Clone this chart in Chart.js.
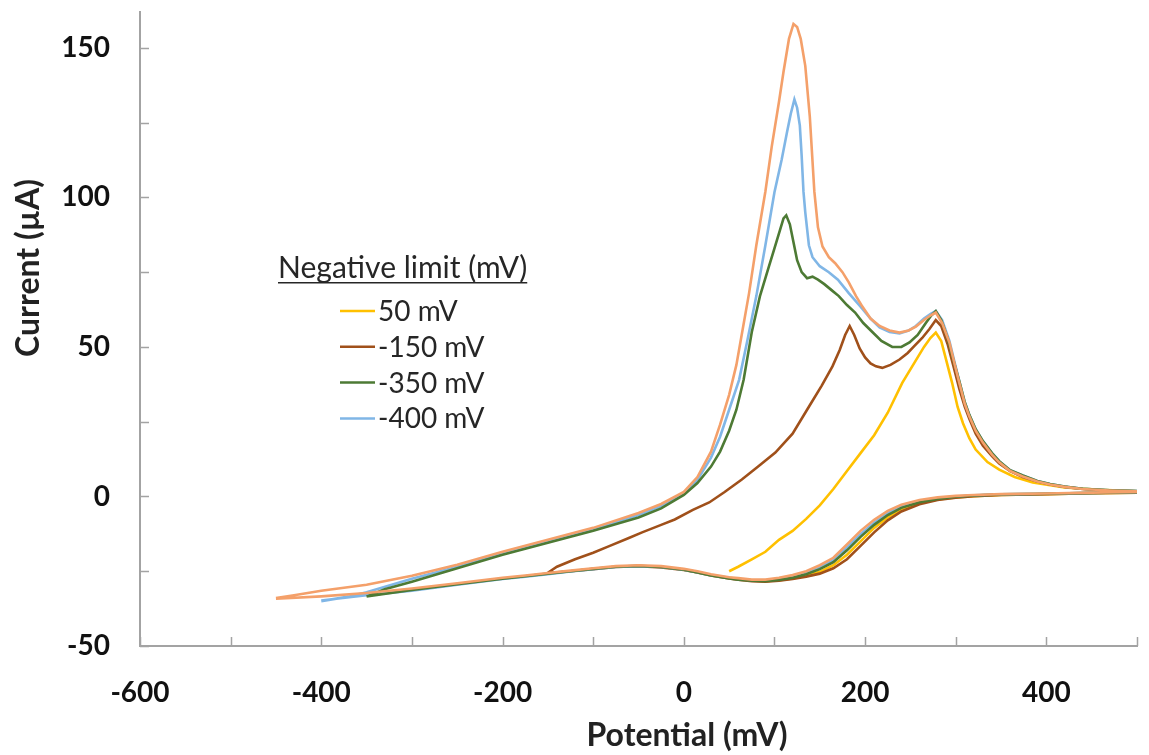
<!DOCTYPE html>
<html>
<head>
<meta charset="utf-8">
<script src="https://cdn.jsdelivr.net/npm/chart.js@4.4.0/dist/chart.umd.min.js"></script>
<style>
  html, body { margin: 0; padding: 0; background: #fff; }
  #wrap { width: 1149px; height: 755px; }
</style>
</head>
<body>
<div id="wrap"><canvas id="cv"></canvas></div>
<script>
// ---- données (potentiel en mV, courant en µA) ----
const xTickLabels = [-600, -400, -200, 0, 200, 400];
const xTickMarks = [-600, -500, -400, -300, -200, -100, 0, 100, 200, 300, 400, 500];
const yTickLabels = [-50, 0, 50, 100, 150];
const yTickMarks = [-50, -25, 0, 25, 50, 75, 100, 125, 150];

// balayage retour (commun en x), de +500 vers la limite négative
const reverseX = [500, 450, 400, 350, 320, 300, 280, 260, 240, 225, 210, 195, 180, 165, 150, 135, 120, 105, 90, 75, 60, 50, 30, 15, 0, -25, -50, -75, -100, -125, -150, -175, -200, -250, -300, -350, -400, -450];

// 50 mV
const mv50FwdX = [50, 60, 75, 90, 105, 120, 135, 150, 165, 180, 195, 210, 225, 241, 255, 265, 272, 278, 284, 290, 296, 302, 308, 315, 322, 335, 348, 365, 385, 420, 460, 500];
const mv50FwdY = [-25, -23.5, -21, -18.5, -14.5, -11.5, -7.5, -3, 2.5, 8.5, 14.5, 20.5, 28, 38, 45, 50, 53, 54.8, 52, 45, 38, 30, 24.5, 19.5, 15.7, 11.5, 9, 6.5, 4.7, 3, 2.2, 1.7];
const mv50RevY = [1.3, 1.1, 0.8, 0.5, 0.1, -0.3, -1, -2.2, -4.3, -7, -10.5, -15, -19.5, -23, -25.2, -26.5, -27.4, -28, -28.3, -28.1, -27.6, -27.2];

// -150 mV
const mv150FwdX = [-150, -140, -120, -100, -83, -60, -46, -25, -10, 10, 28, 45, 64, 82, 101, 120, 138, 152, 164, 172, 178, 183, 188, 194, 200, 206, 212, 219, 228, 238, 247, 255, 263, 271, 278, 284, 291, 298, 304, 310, 315, 322, 330, 340, 348, 360, 374, 390, 404, 420, 440, 470, 500];
const mv150FwdY = [-25.5, -23.5, -21, -18.8, -16.7, -13.8, -12, -9.5, -7.7, -4.5, -2, 1.5, 5.7, 10, 14.7, 21, 30, 37, 43.5, 49, 54, 57, 54, 49.5, 46.5, 44.5, 43.5, 43, 44, 45.8, 48, 50.5, 53, 56, 59, 57, 51, 43, 36, 30, 26, 21, 17, 13.5, 11, 8.5, 6.5, 5, 4, 3.2, 2.5, 2, 1.7];
const mv150RevY = [1.3, 1.1, 0.8, 0.5, 0.1, -0.4, -1.2, -2.6, -5, -8, -12, -16.5, -21, -24, -25.8, -26.8, -27.6, -28.2, -28.5, -28.3, -27.8, -27.4, -26.4, -25.4, -24.6, -23.7, -23.3, -23.6, -24.3, -25, -25.6];

// -350 mV
const mv350FwdX = [-350, -330, -300, -250, -200, -150, -100, -50, -25, 0, 15, 30, 40, 50, 58, 66, 75, 84, 94, 100, 106, 110, 113, 117, 121, 125, 130, 136, 142, 148, 155, 163, 171, 180, 189, 198, 208, 218, 230, 240, 249, 258, 267, 273, 278, 284, 291, 298, 304, 310, 315, 322, 330, 340, 348, 360, 374, 390, 404, 420, 440, 470, 500];
const mv350FwdY = [-33.5, -31, -28.5, -24, -19.5, -15.5, -11.5, -7, -4, 0.5, 4.5, 10, 15, 22, 29, 39, 55, 67, 77, 83, 89, 93, 94, 91, 85, 79, 75, 73, 73.5, 72.5, 71, 69, 67, 64, 61.5, 58, 55, 52, 50, 50, 51.5, 54, 58, 60.5, 62, 59, 53, 45, 38.5, 31.5, 27.3, 22.5, 18.5, 14.5, 11.8, 8.8, 7, 5.2, 4.2, 3.3, 2.6, 2.1, 1.8];
const mv350RevY = [1.4, 1.2, 0.9, 0.7, 0.3, -0.1, -0.8, -1.9, -3.8, -6.2, -9.5, -13.5, -18, -22, -24.3, -26, -27.2, -27.9, -28.3, -28.2, -27.8, -27.4, -26.4, -25.4, -24.5, -23.6, -23.2, -23.5, -24.2, -25, -25.8, -26.7, -27.5, -29.3, -31.3, -33.4];

// -400 mV
const mv400FwdX = [-400, -370, -350, -300, -250, -200, -150, -100, -50, -25, 0, 15, 30, 40, 50, 61, 70, 80, 90, 100, 108, 114, 118, 122, 125, 128, 130, 132, 134, 138, 142, 150, 160, 170, 182, 195, 206, 216, 227, 238, 248, 256, 265, 272, 278, 285, 293, 299, 304, 310, 315, 322, 330, 340, 348, 360, 374, 390, 404, 420, 440, 470, 500];
const mv400FwdY = [-35, -33.5, -32, -27.5, -23.5, -19, -15, -11, -6.2, -3.2, 1, 5.5, 13, 20, 29, 39, 52, 67, 84, 101.7, 112.7, 122, 128, 132.8, 130, 124, 114, 102, 95, 84, 80, 77, 75, 72.5, 68, 63.5, 59.5, 56.5, 55, 54.5, 55.5, 57, 59.5, 61, 62, 59, 52, 44.5, 38.5, 31.5, 27.3, 22.5, 18.5, 14.5, 11.8, 8.8, 7, 5.2, 4.2, 3.3, 2.6, 2.1, 1.8];
const mv400RevY = [1.4, 1.2, 0.9, 0.7, 0.4, 0, -0.6, -1.6, -3.4, -5.6, -8.8, -12.6, -17, -21.3, -23.8, -25.6, -26.8, -27.6, -28.1, -28, -27.6, -27.2, -26.3, -25.3, -24.5, -23.6, -23.3, -23.6, -24.3, -25.1, -26, -26.8, -27.6, -29.5, -31.5, -33, -34.8];

// -450 mV (courbe orange, absente de la légende)
const mv450FwdX = [-450, -430, -400, -350, -300, -250, -200, -150, -100, -50, -25, 0, 15, 30, 40, 50, 58, 65, 72, 80, 90, 97, 105, 110, 116, 121, 125, 129, 134, 139, 144, 148, 153, 160, 167, 175, 182, 190, 197, 206, 216, 227, 238, 248, 256, 265, 272, 278, 285, 293, 299, 304, 310, 315, 322, 330, 340, 348, 360, 374, 390, 404, 420, 440, 470, 500];
const mv450FwdY = [-34, -33, -31.5, -29.5, -26.5, -22.8, -18.5, -14.5, -10.5, -5.5, -2.5, 1.5, 6.5, 15, 24, 34, 44, 56, 68, 84, 102, 117, 132, 142, 153, 158, 157, 153, 144, 127, 102, 90, 83.6, 80, 78, 75, 71.6, 67, 63.5, 59.5, 57, 55.5, 54.8, 55.5, 56.8, 59, 60.5, 61.5, 58, 51.5, 44, 38, 31, 26.8, 22, 18, 14, 11.4, 8.5, 6.7, 5, 4, 3.2, 2.5, 2, 1.7];
const mv450RevY = [1.5, 1.3, 1.0, 0.8, 0.5, 0.2, -0.3, -1.2, -2.8, -4.8, -7.8, -11.5, -16, -20.5, -23, -25, -26.3, -27.2, -27.8, -27.8, -27.3, -27, -26, -25, -24.2, -23.3, -23, -23.3, -24, -24.8, -25.6, -26.4, -27.2, -29, -30.8, -32.3, -33.4, -34.2];

const legendTitle = 'Negative limit (mV)';

// une boucle complète : aller puis retour
function boucle(fx, fy, ry) {
    const pts = fx.map((x, i) => ({ x: x, y: fy[i] }));
    ry.forEach((y, i) => pts.push({ x: reverseX[i], y: y }));
    return pts;
}

function serie(label, color, pts, ordre, inLegend) {
    return {
        label: label, data: pts, showLine: true, borderColor: color, backgroundColor: color,
        borderWidth: 2.6, pointRadius: 0, tension: 0, order: ordre, inLegend: inLegend
    };
}

// ticks vers l'intérieur + titres des axes + légende
const decor = {
    id: 'decor',
    afterDraw(chart) {
        const ctx = chart.ctx;
        const xs = chart.scales.x, ys = chart.scales.y;
        const area = chart.chartArea;
        ctx.save();
        ctx.strokeStyle = '#a3a3a3';
        ctx.lineWidth = 1.5;
        ctx.beginPath();
        xTickMarks.forEach(v => {
            const px = Math.round(xs.getPixelForValue(v)) + 0.5;
            ctx.moveTo(px, area.bottom); ctx.lineTo(px, area.bottom - 9);
        });
        yTickMarks.forEach(v => {
            const py = Math.round(ys.getPixelForValue(v)) + 0.5;
            ctx.moveTo(area.left, py); ctx.lineTo(area.left + 9, py);
        });
        ctx.stroke();

        // titres
        ctx.fillStyle = '#222';
        ctx.font = 'bold 32px Lato';
        ctx.textAlign = 'center';
        ctx.textBaseline = 'middle';
        ctx.fillText('Potential (mV)', 687, 736);
        ctx.save();
        ctx.translate(29, 268);
        ctx.rotate(-Math.PI / 2);
        ctx.fillText('Current (µA)', 0, 0);
        ctx.restore();

        // légende
        ctx.textAlign = 'left';
        ctx.textBaseline = 'alphabetic';
        ctx.fillStyle = '#262626';
        ctx.font = '30px Lato';
        ctx.fillText(legendTitle, 278, 278);
        const w = ctx.measureText(legendTitle).width;
        ctx.fillRect(278, 282, w, 1.5);
        ctx.font = '28px Lato';
        const items = chart.data.datasets.filter(d => d.inLegend);
        items.forEach((d, i) => {
            const cy = 311 + i * 35.8;
            ctx.strokeStyle = d.borderColor;
            ctx.lineWidth = 2.5;
            ctx.beginPath();
            ctx.moveTo(340, cy); ctx.lineTo(375, cy);
            ctx.stroke();
            ctx.fillText(d.label, 378, cy + 10);
        });
        ctx.restore();
    }
};

new Chart(document.getElementById('cv'), {
    type: 'scatter',
    data: {
        datasets: [
            serie('50 mV', '#FFC000', boucle(mv50FwdX, mv50FwdY, mv50RevY), 4, true),
            serie('-150 mV', '#A0501A', boucle(mv150FwdX, mv150FwdY, mv150RevY), 3, true),
            serie('-350 mV', '#4D7A34', boucle(mv350FwdX, mv350FwdY, mv350RevY), 1, true),
            serie('-400 mV', '#80B6E6', boucle(mv400FwdX, mv400FwdY, mv400RevY), 2, true),
            serie('-450 mV', '#F4A06A', boucle(mv450FwdX, mv450FwdY, mv450RevY), 0, false)
        ]
    },
    options: {
        responsive: true,
        maintainAspectRatio: false,
        animation: false,
        layout: { padding: { top: 12, right: 12, left: 0, bottom: 0 } },
        plugins: { legend: { display: false }, tooltip: { enabled: false } },
        scales: {
            x: {
                type: 'linear', min: -600, max: 500,
                afterBuildTicks: s => { s.ticks = xTickLabels.map(v => ({ value: v })); },
                afterFit: s => { s.height = 109; s.paddingLeft = 0; s.paddingRight = 0; },
                grid: { display: false },
                border: { display: true, color: '#a3a3a3', width: 2 },
                ticks: { padding: 22, autoSkip: false, maxRotation: 0, color: '#111', font: { family: 'Lato', size: 28, weight: 'bold' } }
            },
            y: {
                type: 'linear', min: -50, max: 162,
                afterBuildTicks: s => { s.ticks = yTickLabels.map(v => ({ value: v })); },
                afterFit: s => { s.width = 140; s.paddingTop = 0; s.paddingBottom = 0; },
                grid: { display: false },
                border: { display: true, color: '#a3a3a3', width: 2 },
                ticks: { padding: 22, autoSkip: false, color: '#111', font: { family: 'Lato', size: 28, weight: 'bold' } }
            }
        }
    },
    plugins: [decor]
});
</script>
</body>
</html>
